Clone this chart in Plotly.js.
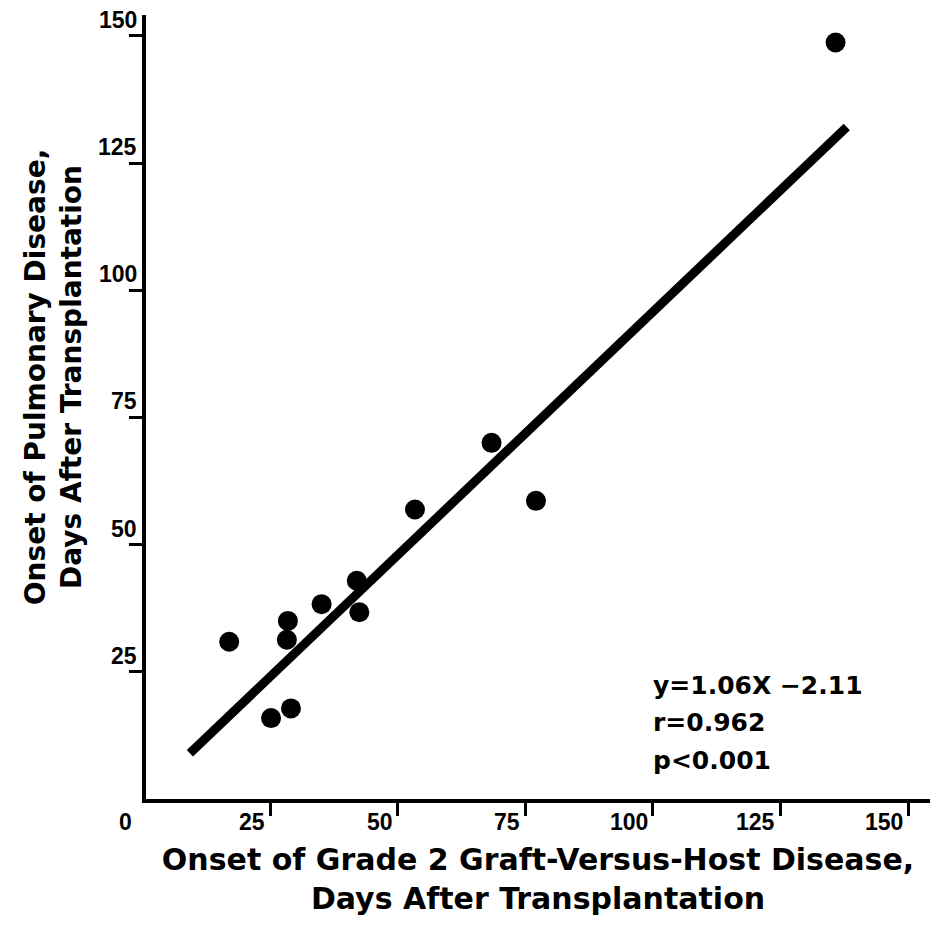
<!DOCTYPE html>
<html><head><meta charset="utf-8">
<script src="https://cdn.plot.ly/plotly-3.0.1.min.js"></script>
<style>html,body{margin:0;padding:0;background:#fff}</style>
</head><body><div id="chart" style="width:941px;height:927px"></div>
<script>
// Data
const gvhdOnset      = [17.0, 28.5, 28.3, 35.1, 42.0, 42.5, 25.2, 29.1, 68.4, 53.4, 77.1, 135.8];
const pulmonaryOnset = [30.9, 35.0, 31.3, 38.3, 42.9, 36.7, 15.9, 17.8, 70.0, 56.9, 58.6, 148.7];
const fitX = [9.3, 138.0];
const fitY = [9.0, 132.1];
const tickValues = [25, 50, 75, 100, 125, 150];
const tickLabels = ['25', '50', '75', '100', '125', '150'];
const originLabel = '0';
const statLines = ['y=1.06X −2.11', 'r=0.962', 'p<0.001'];
const xTitle = 'Onset of Grade 2 Graft-Versus-Host Disease,<br>Days After Transplantation';
const yTitle = 'Onset of Pulmonary Disease,<br>Days After Transplantation';

const xRange = [0.7, 154.3];
const yRange = [0, 154.1];
const titleFont = {family: 'DejaVu Sans', size: 30, color: '#000', weight: 'bold'};
const yTitleFont = {family: 'DejaVu Sans', size: 28, color: '#000', weight: 'bold'};
const tickFont = {family: 'Liberation Sans', size: 23, color: '#000', weight: 'bold'};

const traces = [
  {x: fitX, y: fitY, mode: 'lines', line: {color: '#000', width: 9}, hoverinfo: 'skip', showlegend: false},
  {x: gvhdOnset, y: pulmonaryOnset, mode: 'markers', marker: {color: '#000', size: 20}, showlegend: false}
];

const annotations = [];
tickValues.forEach((v, i) => {
  annotations.push({x: v, y: 0, xref: 'x', yref: 'paper', text: tickLabels[i], showarrow: false,
    xanchor: 'right', yanchor: 'top', xshift: -3, yshift: -8, font: tickFont});
  annotations.push({x: 0, y: v, xref: 'paper', yref: 'y', text: tickLabels[i], showarrow: false,
    xanchor: 'right', yanchor: 'bottom', xshift: -7, yshift: 1, font: tickFont});
});
annotations.push({x: 0, y: 0, xref: 'paper', yref: 'paper', text: originLabel, showarrow: false,
  xanchor: 'right', yanchor: 'top', xshift: -12, yshift: -8, font: tickFont});
statLines.forEach((t, i) => {
  annotations.push({x: 99.6, y: 25.6 - i * 7.4, xref: 'x', yref: 'y', text: t, showarrow: false,
    xanchor: 'left', yanchor: 'top', font: {family: 'DejaVu Sans', size: 25, color: '#000', weight: 'bold'}});
});
// y-axis title (placed as a rotated annotation to match the reference position)
annotations.push({x: 0, y: 0.538, xref: 'paper', yref: 'paper', text: yTitle, showarrow: false,
  textangle: -90, xanchor: 'center', yanchor: 'middle', xshift: -93, font: yTitleFont});

const baseAxis = {showgrid: false, zeroline: false, showticklabels: false, tickvals: tickValues,
  ticklen: 13, tickwidth: 3, tickcolor: '#000', fixedrange: true};

const layout = {
  width: 941, height: 927,
  margin: {l: 146, r: 11, t: 15, b: 128},
  paper_bgcolor: '#fff', plot_bgcolor: '#fff',
  xaxis: Object.assign({}, baseAxis, {range: xRange, ticks: 'outside', showline: true, linecolor: '#000', linewidth: 4,
    title: {text: xTitle, font: titleFont, standoff: 35}}),
  yaxis: Object.assign({}, baseAxis, {range: yRange, ticks: 'outside', showline: true, linecolor: '#000', linewidth: 4}),
  xaxis2: Object.assign({}, baseAxis, {range: xRange, ticks: 'inside', overlaying: 'x', anchor: 'y', side: 'bottom', showline: false}),
  yaxis2: Object.assign({}, baseAxis, {range: yRange, ticks: 'inside', overlaying: 'y', anchor: 'x', side: 'left', showline: false}),
  annotations: annotations
};

Plotly.newPlot('chart', traces, layout, {displayModeBar: false, staticPlot: true});
</script></body></html>
